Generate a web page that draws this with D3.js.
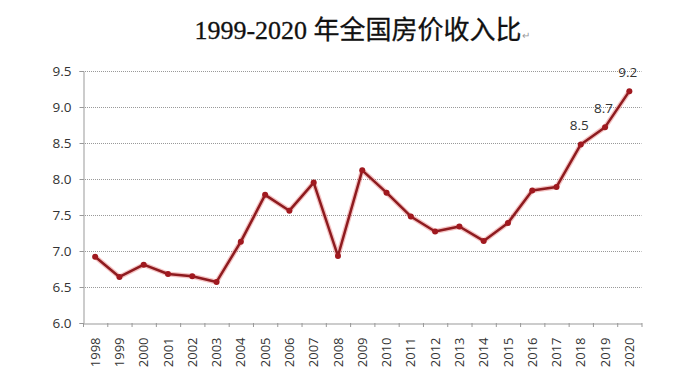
<!DOCTYPE html>
<html><head><meta charset="utf-8">
<script src="https://cdn.jsdelivr.net/npm/d3@7"></script>
<style>body{margin:0;background:#fff}svg{display:block}</style>
</head><body>
<svg id="c" width="688" height="381"></svg>
<script>
const years = ["1998","1999","2000","2001","2002","2003","2004","2005","2006","2007","2008","2009","2010","2011","2012","2013","2014","2015","2016","2017","2018","2019","2020"];
const ratio = [6.92,6.64,6.81,6.68,6.65,6.57,7.13,7.78,7.56,7.95,6.93,8.12,7.81,7.48,7.27,7.34,7.14,7.39,7.84,7.89,8.48,8.72,9.22];
const yTicks = [6.0,6.5,7.0,7.5,8.0,8.5,9.0,9.5];
const labelled = {"2018":"8.5","2019":"8.7","2020":"9.2"};
const title = "1999-2020 年全国房价收入比";

const svg = d3.select("#c");
const L = 83, R = 641.5, T = 71, B = 323;
const x = d3.scaleBand().domain(years).range([L, R]).padding(0);
const y = d3.scaleLinear().domain([6, 9.5]).range([B, T]);

// title
const tt = svg.append("text").attr("x", 362).attr("y", 39).attr("text-anchor", "middle")
  .attr("font-family", "'Liberation Serif','Noto Sans CJK SC',serif").attr("font-size", 26).attr("fill", "#111")
  .attr("stroke", "#111").attr("stroke-width", 0.3);
tt.append("tspan").text(title);
tt.append("tspan").attr("font-size", 10).attr("fill", "#999").attr("stroke", "none").text("↵");

// grid
svg.append("g").selectAll("line").data(yTicks.slice(1)).join("line")
  .attr("x1", L).attr("x2", R).attr("y1", d => y(d) + 0.5).attr("y2", d => y(d) + 0.5)
  .attr("stroke", "#999").attr("stroke-dasharray", "1,1").attr("stroke-width", 1);

// y axis
const ya = svg.append("g").attr("transform", `translate(${L + 0.5},0)`)
  .call(d3.axisLeft(y).tickValues(yTicks).tickFormat(d3.format(".1f")).tickSize(4).tickPadding(8));
ya.select(".domain").attr("stroke", "#999");
ya.selectAll(".tick line").attr("stroke", "#999");
ya.selectAll("text").attr("font-family", "'Open Sans',sans-serif").attr("font-size", 13.5).attr("fill", "#333");

// x axis
const xa = svg.append("g").attr("transform", `translate(0,${B + 0.5})`)
  .call(d3.axisBottom(x).tickSize(0).tickPadding(0));
xa.select(".domain").attr("stroke", "#999");
xa.selectAll(".tick text")
  .attr("font-family", "'Open Sans',sans-serif").attr("font-size", 13).attr("fill", "#333")
  .attr("transform", "rotate(-90)").attr("text-anchor", "end").attr("x", -14).attr("y", 0).attr("dy", "0.35em");
// boundary ticks
const bounds = years.map(d => x(d)).concat([x(years[years.length - 1]) + x.bandwidth()]);
svg.append("g").selectAll("line").data(bounds).join("line")
  .attr("x1", d => d + 0.5).attr("x2", d => d + 0.5).attr("y1", B).attr("y2", B + 4)
  .attr("stroke", "#999");

const cx = d => x(d) + x.bandwidth() / 2;
const line = d3.line().x((d, i) => cx(years[i])).y(d => y(d));

// glow
svg.append("path").datum(ratio).attr("d", line).attr("fill", "none")
  .attr("stroke", "#e05050").attr("stroke-opacity", 0.35).attr("stroke-width", 5).attr("stroke-linejoin", "round");
svg.append("path").datum(ratio).attr("d", line).attr("fill", "none")
  .attr("stroke", "#8e1b1f").attr("stroke-width", 2.5).attr("stroke-linejoin", "round");
svg.append("g").selectAll("circle").data(ratio).join("circle")
  .attr("cx", (d, i) => cx(years[i])).attr("cy", d => y(d)).attr("r", 3).attr("fill", "#a0191f");

// data labels
svg.append("g").selectAll("text").data(years.filter(d => labelled[d])).join("text")
  .attr("x", d => cx(d) + 8).attr("y", d => y(ratio[years.indexOf(d)]) - 14)
  .attr("text-anchor", "end")
  .attr("font-family", "'Open Sans',sans-serif").attr("font-size", 13.5).attr("fill", "#333")
  .text(d => labelled[d]);
</script>
</body></html>
